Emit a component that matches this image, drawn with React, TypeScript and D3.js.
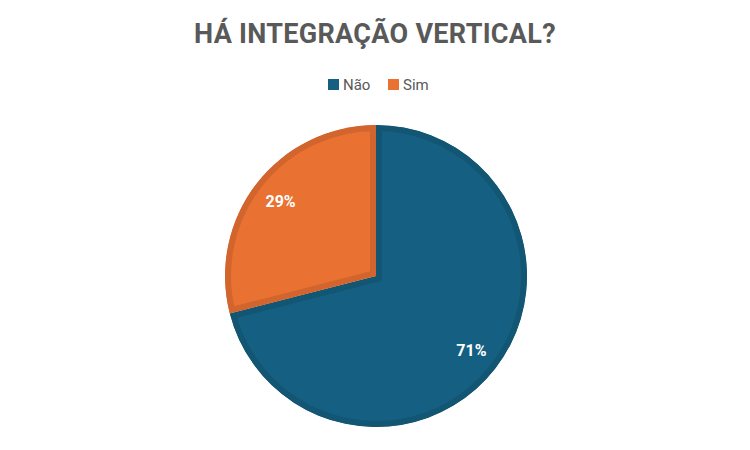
import React from "react";
import * as d3 from "d3";

const title = "HÁ INTEGRAÇÃO VERTICAL?";
const categories = ["Não", "Sim"];
const values = [71, 29];
const fills = ["#156082", "#E97132"];
const strokes = ["#125674", "#D2652D"];

export default function App() {
  const W = 750, H = 450;
  const cx = 376, cy = 276, r = 151;
  const pie = d3.pie<number>().sort(null).value((d) => d)(values);
  const arc = d3.arc<d3.PieArcDatum<number>>().innerRadius(0).outerRadius(r);
  const labelArc = d3.arc<d3.PieArcDatum<number>>().innerRadius(r * 0.8).outerRadius(r * 0.8);
  const total = d3.sum(values);

  const legendX = [328, 388];
  return (
    <svg width={W} height={H} style={{ position: "absolute", left: 0, top: 0, fontFamily: "Roboto, 'Open Sans', sans-serif" }}>
      <rect width={W} height={H} fill="#fff" />
      <text x={375} y={43} textAnchor="middle" fontSize={27} fontWeight="bold" fill="#595959" letterSpacing={0.3}>{title}</text>
      {categories.map((c, i) => (
        <g key={c} transform={`translate(${legendX[i]},79)`}>
          <rect width={11} height={11} fill={fills[i]} />
          <text x={15} y={11} fontSize={15} fill="#595959">{c}</text>
        </g>
      ))}
      <g transform={`translate(${cx},${cy})`}>
        <defs>
          {pie.map((p, i) => (
            <clipPath id={`clip${i}`} key={i}>
              <path d={arc(p) || ""} />
            </clipPath>
          ))}
        </defs>
        {pie.map((p, i) => (
          <path key={i} d={arc(p) || ""} fill={fills[i]} stroke={strokes[i]} strokeWidth={12} clipPath={`url(#clip${i})`} />
        ))}
        {pie.map((p, i) => {
          const [lx, ly] = labelArc.centroid(p);
          return (
            <text key={i} x={lx} y={ly} textAnchor="middle" dominantBaseline="central" fontSize={16} fontWeight="bold" fill="#fff">
              {`${Math.round((values[i] / total) * 100)}%`}
            </text>
          );
        })}
      </g>
    </svg>
  );
}
